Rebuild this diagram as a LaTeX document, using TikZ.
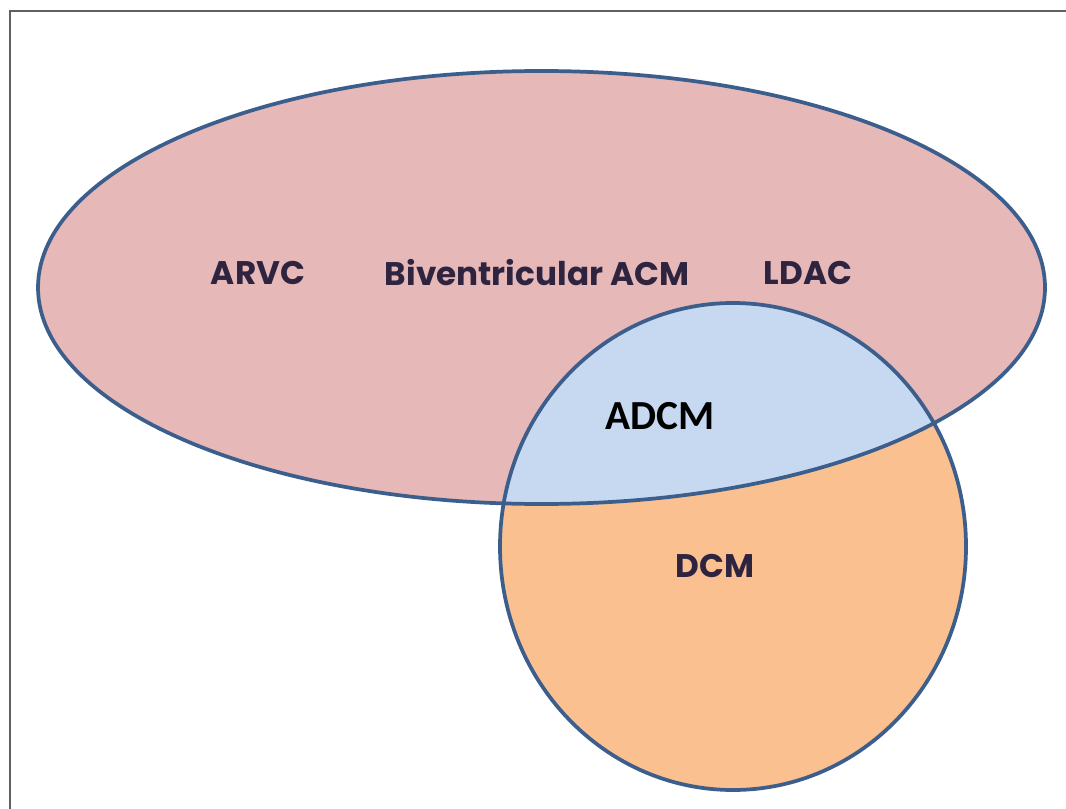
\documentclass[tikz,border=0pt]{standalone}
\usepackage{fontspec}
\newfontfamily\geofont{Poppins}
\newfontfamily\calfont{Carlito}
\definecolor{acmfill}{HTML}{E6B8B7}
\definecolor{dcmfill}{HTML}{FAC090}
\definecolor{bothfill}{HTML}{C6D9F1}
\definecolor{rim}{HTML}{3B5E8C}
\definecolor{labelink}{HTML}{2E2440}
\definecolor{frame}{HTML}{606060}
\begin{document}
\begin{tikzpicture}[x=0.75pt,y=-0.75pt,
  rimline/.style={draw=rim,line width=2.8pt},
  grouplabel/.style={font=\geofont\bfseries\fontsize{24.5}{28}\selectfont,text=labelink},
  corelabel/.style={font=\calfont\bfseries\fontsize{31}{36}\selectfont,text=black}]
  \useasboundingbox (0,0) rectangle (1066,809);
  % page frame (left and top edges)
  \draw[frame,line width=2.2pt] (10,809) -- (10,11) -- (1066,11);
  % arrhythmogenic cardiomyopathy set and dilated cardiomyopathy set
  \fill[acmfill] (541.5,287.5) ellipse [x radius=503.5, y radius=216.5];
  \fill[dcmfill] (733,546.5) ellipse [x radius=233, y radius=243.5];
  % overlap
  \begin{scope}
    \clip (541.5,287.5) ellipse [x radius=503.5, y radius=216.5];
    \fill[bothfill] (733,546.5) ellipse [x radius=233, y radius=243.5];
  \end{scope}
  \path[rimline] (541.5,287.5) ellipse [x radius=503.5, y radius=216.5];
  \path[rimline] (733,546.5) ellipse [x radius=233, y radius=243.5];
  % labels
  \node[grouplabel] (arvc) at (258,273) {ARVC};
  \node[grouplabel] (bivacm) at (537,273) {Biventricular ACM};
  \node[grouplabel] (ldac) at (808,273) {LDAC};
  \node[corelabel] (adcm) at (660,416) {ADCM};
  \node[grouplabel] (dcm) at (715,566) {DCM};
\end{tikzpicture}
\end{document}
